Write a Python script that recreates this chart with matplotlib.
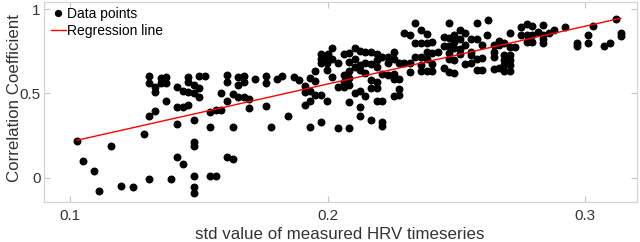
import matplotlib
matplotlib.use("Agg")
import matplotlib.pyplot as plt
import numpy as np

plt.rcParams['font.family'] = ['Liberation Sans', 'DejaVu Sans']

# std of measured HRV timeseries (x) and correlation coefficient (y)
hrv_std = [
    0.1028, 0.1052, 0.1094, 0.1114, 0.1158, 0.1200, 0.1243, 0.1287, 0.1307, 0.1307,
    0.1307, 0.1307, 0.1329, 0.1329, 0.1329, 0.1352, 0.1352, 0.1372, 0.1372, 0.1372,
    0.1394, 0.1416, 0.1416, 0.1416, 0.1416, 0.1437, 0.1437, 0.1437, 0.1459, 0.1459,
    0.1459, 0.1459, 0.1481, 0.1481, 0.1481, 0.1481, 0.1481, 0.1481, 0.1481, 0.1481,
    0.1501, 0.1501, 0.1501, 0.1523, 0.1545, 0.1545, 0.1545, 0.1566, 0.1566, 0.1588,
    0.1588, 0.1610, 0.1610, 0.1610, 0.1610, 0.1631, 0.1631, 0.1631, 0.1652, 0.1652,
    0.1652, 0.1674, 0.1674, 0.1674, 0.1695, 0.1695, 0.1717, 0.1761, 0.1761, 0.1761,
    0.1782, 0.1804, 0.1824, 0.1846, 0.1868, 0.1889, 0.1911, 0.1911, 0.1911, 0.1933,
    0.1933, 0.1933, 0.1933, 0.1953, 0.1953, 0.1953, 0.1976, 0.1976, 0.1998, 0.1998,
    0.1976, 0.1976, 0.1976, 0.1988, 0.1998, 0.2001, 0.2018, 0.2018, 0.2018, 0.2040,
    0.2040, 0.2040, 0.2062, 0.2062, 0.2062, 0.2062, 0.2083, 0.2083, 0.2083, 0.2083,
    0.2083, 0.2083, 0.2083, 0.2105, 0.2105, 0.2105, 0.2105, 0.2127, 0.2127, 0.2127,
    0.2127, 0.2127, 0.2127, 0.2147, 0.2147, 0.2147, 0.2147, 0.2169, 0.2169, 0.2169,
    0.2169, 0.2169, 0.2191, 0.2191, 0.2191, 0.2191, 0.2191, 0.2191, 0.2212, 0.2212,
    0.2212, 0.2212, 0.2212, 0.2234, 0.2234, 0.2234, 0.2256, 0.2256, 0.2256, 0.2256,
    0.2256, 0.2276, 0.2276, 0.2276, 0.2276, 0.2298, 0.2298, 0.2321, 0.2321, 0.2321,
    0.2341, 0.2341, 0.2341, 0.2363, 0.2363, 0.2363, 0.2363, 0.2363, 0.2385, 0.2385,
    0.2385, 0.2385, 0.2385, 0.2406, 0.2406, 0.2406, 0.2406, 0.2428, 0.2450, 0.2450,
    0.2450, 0.2470, 0.2470, 0.2470, 0.2470, 0.2470, 0.2470, 0.2492, 0.2492, 0.2492,
    0.2492, 0.2492, 0.2514, 0.2514, 0.2514, 0.2514, 0.2535, 0.2535, 0.2535, 0.2557,
    0.2557, 0.2557, 0.2557, 0.2579, 0.2579, 0.2579, 0.2579, 0.2600, 0.2600, 0.2600,
    0.2617, 0.2623, 0.2645, 0.2645, 0.2645, 0.2645, 0.2664, 0.2664, 0.2664, 0.2686,
    0.2686, 0.2686, 0.2686, 0.2686, 0.2708, 0.2708, 0.2708, 0.2708, 0.2708, 0.2708,
    0.2729, 0.2751, 0.2751, 0.2772, 0.2772, 0.2772, 0.2793, 0.2793, 0.2793, 0.2815,
    0.2837, 0.2837, 0.2837, 0.2837, 0.2858, 0.2880, 0.2922, 0.2966, 0.2966, 0.3009,
    0.3009, 0.3031, 0.3074, 0.3096, 0.3119, 0.3138, 0.3138,
]
corr_coef = [
    0.220, 0.101, 0.042, -0.077, 0.190, -0.049, -0.053, 0.259, 0.604, 0.561,
    0.366, -0.008, 0.540, 0.509, 0.394, 0.590, 0.562, 0.600, 0.561, 0.457,
    -0.008, 0.539, 0.420, 0.317, 0.123, 0.515, 0.422, 0.081, 0.600, 0.570,
    0.509, 0.429, 0.550, 0.503, 0.341, 0.214, 0.188, 0.010, -0.055, -0.089,
    0.601, 0.530, 0.481, 0.602, 0.390, 0.299, 0.012, 0.012, 0.404, 0.402,
    0.501, 0.610, 0.570, 0.455, 0.125, 0.495, 0.298, 0.110, 0.600, 0.548,
    0.481, 0.604, 0.570, 0.476, 0.469, 0.412, 0.588, 0.601, 0.562, 0.424,
    0.301, 0.586, 0.604, 0.365, 0.598, 0.578, 0.542, 0.511, 0.429, 0.590,
    0.517, 0.455, 0.301, 0.634, 0.576, 0.488, 0.491, 0.333, 0.640, 0.452,
    0.735, 0.705, 0.678, 0.717, 0.679, 0.735, 0.770, 0.703, 0.600, 0.679,
    0.540, 0.293, 0.735, 0.610, 0.570, 0.540, 0.739, 0.689, 0.635, 0.590,
    0.550, 0.451, 0.293, 0.768, 0.703, 0.659, 0.505, 0.752, 0.669, 0.639,
    0.517, 0.418, 0.368, 0.745, 0.679, 0.620, 0.485, 0.746, 0.672, 0.580,
    0.533, 0.343, 0.732, 0.699, 0.657, 0.568, 0.531, 0.455, 0.719, 0.616,
    0.452, 0.333, 0.304, 0.719, 0.679, 0.610, 0.748, 0.703, 0.616, 0.584,
    0.485, 0.679, 0.586, 0.525, 0.488, 0.857, 0.683, 0.847, 0.679, 0.629,
    0.917, 0.798, 0.715, 0.877, 0.798, 0.719, 0.669, 0.635, 0.853, 0.798,
    0.748, 0.703, 0.635, 0.808, 0.742, 0.675, 0.635, 0.748, 0.837, 0.782,
    0.650, 0.917, 0.828, 0.782, 0.739, 0.703, 0.629, 0.847, 0.808, 0.768,
    0.699, 0.624, 0.877, 0.822, 0.762, 0.735, 0.861, 0.788, 0.672, 0.822,
    0.748, 0.729, 0.679, 0.917, 0.822, 0.703, 0.641, 0.788, 0.709, 0.638,
    0.847, 0.936, 0.788, 0.748, 0.719, 0.645, 0.814, 0.788, 0.650, 0.802,
    0.729, 0.699, 0.669, 0.635, 0.861, 0.778, 0.729, 0.699, 0.669, 0.635,
    0.778, 0.897, 0.847, 0.913, 0.847, 0.808, 0.901, 0.847, 0.808, 0.867,
    0.907, 0.847, 0.822, 0.802, 0.857, 0.877, 0.897, 0.798, 0.782, 0.847,
    0.798, 0.901, 0.782, 0.802, 0.941, 0.861, 0.840,
]

x = np.array(hrv_std)
y = np.array(corr_coef)
slope, intercept = np.polyfit(x, y, 1)
xfit = np.array([x.min(), x.max()])

fig = plt.figure(figsize=(6.4, 2.42), dpi=100)
ax = fig.add_axes([0.069, 0.165, 0.926, 0.827])

ax.plot(x, y, 'o', color='black', markersize=4.7, label='Data points')
ax.plot(xfit, slope * xfit + intercept, color='red', linewidth=1, label='Regression line')

ax.set_xlim(0.09, 0.32)
ax.set_ylim(-0.145, 1.043)
ax.set_xticks([0.1, 0.2, 0.3])
ax.set_xticklabels(['0.1', '0.2', '0.3'])
ax.set_yticks([0, 0.5, 1])
ax.set_yticklabels(['0', '0.5', '1'])

grey = '#d4d4d4'
for s in ax.spines.values():
    s.set_color(grey)
    s.set_linewidth(0.9)
ax.tick_params(direction='in', length=4, width=0.8, color='#c4c4c4', labelcolor='#333333',
               labelsize=11, top=True, right=True)
ax.tick_params(axis='x', pad=5)
ax.tick_params(axis='y', pad=2.5)

ax.set_xlabel('std value of measured HRV timeseries', fontsize=12.2, color='#333333')
ax.set_ylabel('Correlation Coefficient', fontsize=12.2, color='#333333')
ax.xaxis.set_label_coords(0.499, -0.125)
ax.yaxis.set_label_coords(-0.038, 0.52)

ax.legend(loc='upper left', bbox_to_anchor=(0.011, 0.975), frameon=False, fontsize=10,
          handlelength=1.1, handletextpad=0.1, borderaxespad=0, borderpad=0,
          labelspacing=0.2, markerscale=0.9)

fig.savefig('out.png', dpi=100)
